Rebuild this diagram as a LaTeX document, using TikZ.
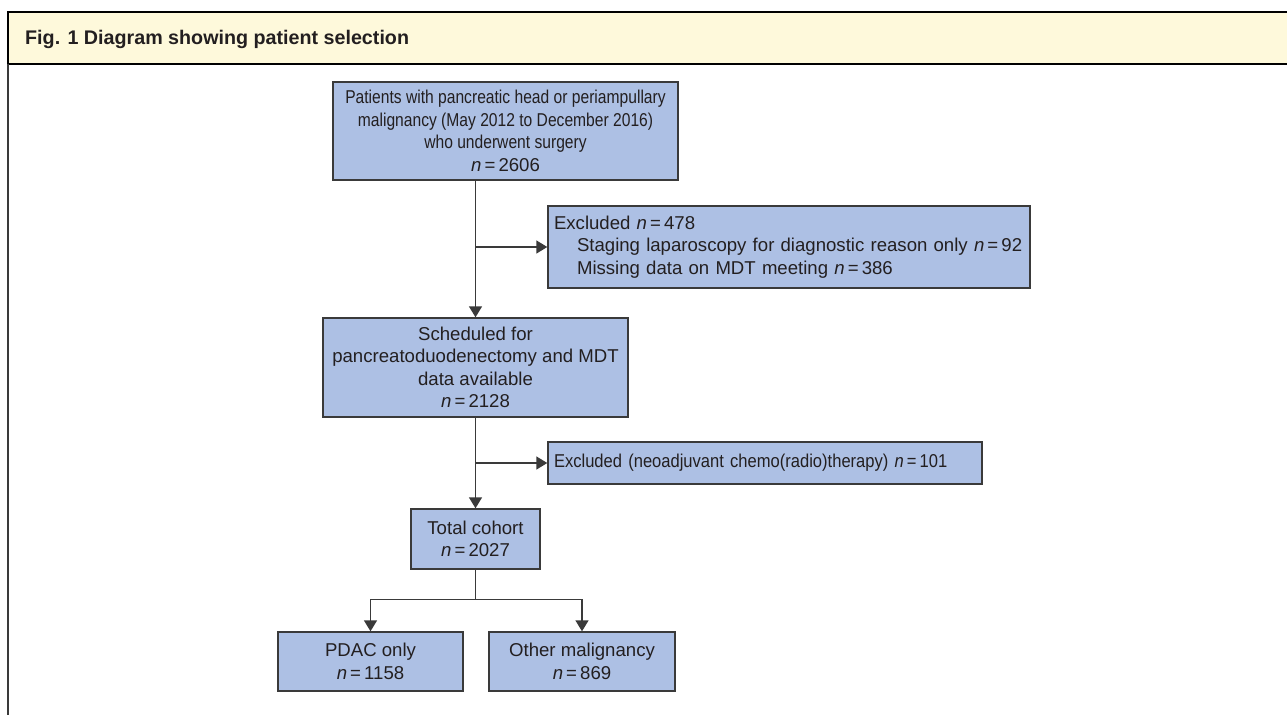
\documentclass[tikz,border=0pt]{standalone}
\usepackage{fontspec}
\setmainfont{Liberation Sans}
\newfontfamily\narrowfont[FakeStretch=0.84]{Liberation Sans}
\newfontfamily\slimfont[FakeStretch=0.89]{Liberation Sans}
\usetikzlibrary{arrows.meta}

\definecolor{boxblue}{HTML}{ADC0E4}
\definecolor{boxline}{HTML}{3A3A3A}
\definecolor{headfill}{HTML}{FEF9DB}
\definecolor{textdark}{HTML}{231F20}

\tikzset{
    stagebox/.style={draw=boxline, fill=boxblue, line width=1.4pt, align=center, inner sep=0pt,
        text=textdark, font=\fontsize{18.6}{22.5}\selectfont},
    excludebox/.style={stagebox, align=left, inner xsep=6pt, inner ysep=0pt},
    flowline/.style={draw=boxline, line width=1.4pt},
    flowarrow/.style={flowline, -{Triangle[length=11pt,width=13pt]}}
}
\newcommand{\nval}[1]{\textit{n}\,=\,#1}

\begin{document}
\begin{tikzpicture}[x=1pt, y=-1pt]
    \useasboundingbox (0,0) rectangle (1287,715);
    % Header band and frame
    \fill[white] (0,0) rectangle (1287,715);
    \draw[fill=headfill, line width=1.3pt] (8,12) rectangle (1300,64);
    \draw[draw=boxline, line width=1.5pt] (8,64) -- (8,715);
    \node[anchor=base west, inner sep=0pt, font=\fontsize{19.7}{24}\selectfont\bfseries, text=textdark] (title) at (25,44) {Fig. 1 Diagram showing patient selection};

    % Boxes
    \node[stagebox, minimum width=345pt, minimum height=98pt] (start) at (505.5,131) {{\narrowfont Patients with pancreatic head or periampullary}\\{\narrowfont malignancy (May 2012 to December 2016)}\\{\narrowfont who underwent surgery}\\\nval{2606}};
    \node[excludebox, text width=470pt, minimum height=82pt] (excl1) at (789,247) {Excluded \nval{478}\\\hspace*{23pt}Staging laparoscopy for diagnostic reason only \nval{92}\\\hspace*{23pt}Missing data on MDT meeting \nval{386}};
    \node[stagebox, minimum width=305pt, minimum height=99pt] (sched) at (475.5,367.5) {Scheduled for\\pancreatoduodenectomy and MDT\\data available\\\nval{2128}};
    \node[excludebox, text width=422pt, minimum height=42pt] (excl2) at (765,463) {\slimfont Excluded (neoadjuvant chemo(radio)therapy) \nval{101}};
    \node[stagebox, minimum width=129pt, minimum height=60pt] (cohort) at (475.5,539) {Total cohort\\\nval{2027}};
    \node[stagebox, minimum width=185pt, minimum height=59pt] (pdac) at (370.5,661.5) {PDAC only\\\nval{1158}};
    \node[stagebox, minimum width=186pt, minimum height=59pt] (other) at (582,661.5) {Other malignancy\\\nval{869}};

    % Connectors
    \draw[flowarrow] (sched.north |- start.south) -- (sched.north);
    \draw[flowarrow] (sched.north |- excl1.west) -- (excl1.west);
    \draw[flowarrow] (sched.south) -- (cohort.north);
    \draw[flowarrow] (sched.south |- excl2.west) -- (excl2.west);
    \draw[flowline] (cohort.south) -- ++(0,30) coordinate (split);
    \draw[flowarrow] (split) -| (pdac.north);
    \draw[flowarrow] (split) -| (other.north);
\end{tikzpicture}
\end{document}
